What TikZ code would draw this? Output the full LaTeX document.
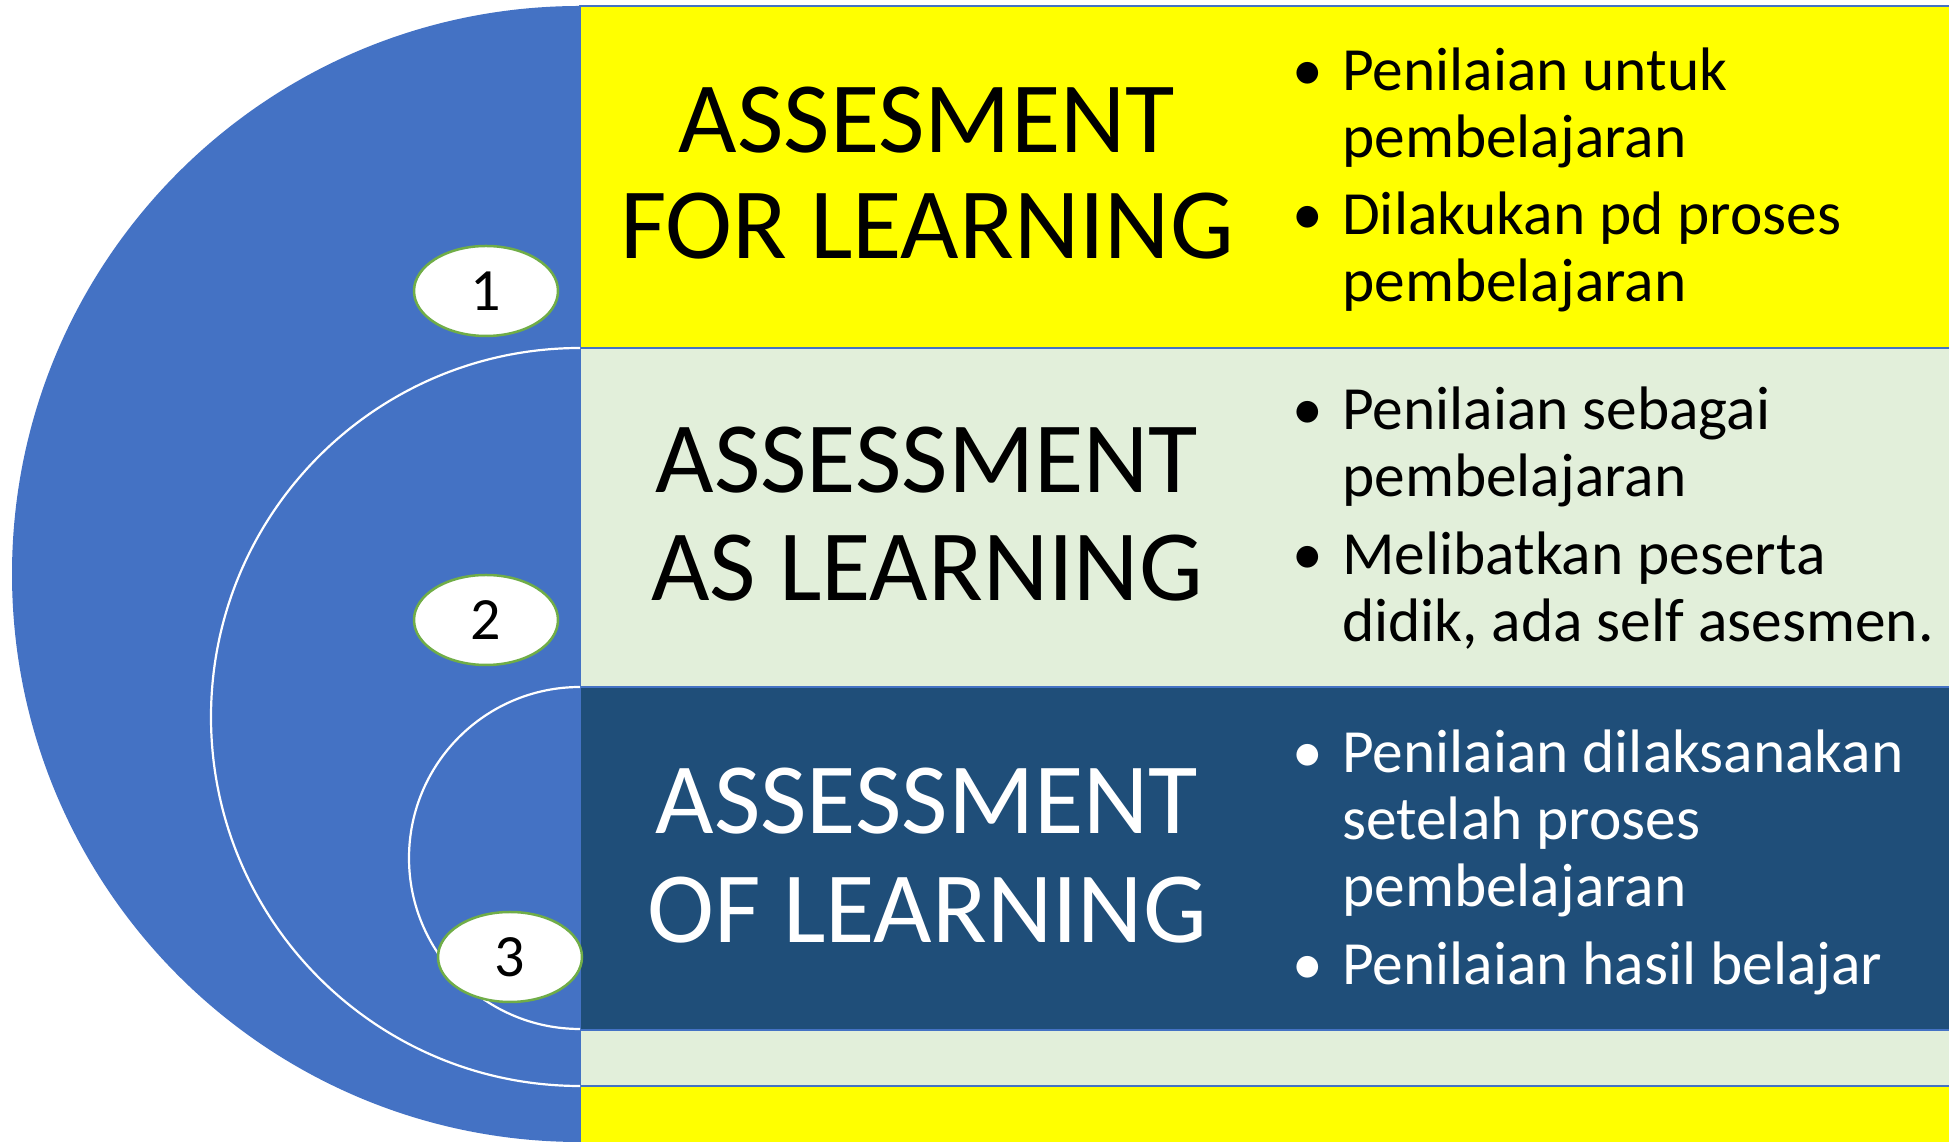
\documentclass[tikz,border=0pt]{standalone}
\usepackage{fontspec}
\setmainfont{Carlito}
\usetikzlibrary{shapes.geometric}
\definecolor{blueA}{HTML}{4472C4}
\definecolor{navy}{HTML}{1F4E79}
\definecolor{pale}{HTML}{E2EFDA}
\definecolor{grn}{HTML}{70AD47}
\definecolor{yel}{HTML}{FFFF00}
\begin{document}
\begin{tikzpicture}[x=1pt,y=1pt,
  band/.style={draw=blueA,line width=2pt},
  title/.style={anchor=base,inner sep=0pt,font=\fontsize{101}{107}\selectfont},
  btxt/.style={anchor=base west,inner sep=0pt,font=\fontsize{61.4}{66}\selectfont},
  bdot/.style={anchor=base,inner sep=0pt,font=\fontsize{61.4}{66}\selectfont},
  num/.style={ellipse,draw=grn,line width=2.5pt,fill=white,minimum width=144pt,minimum height=90pt,inner sep=0pt,font=\fontsize{60}{66}\selectfont},
  ring/.style={draw=white,line width=2.2pt}]
\useasboundingbox (0,0) rectangle (1949,1142);
\clip (0,0) rectangle (1949,1142);
% big half disc
\fill[blueA] (580,1136) arc[start angle=90,end angle=270,radius=568] -- cycle;
% bands
\draw[band,fill=yel] (580,794) rectangle (1960,1136);
\draw[band,fill=pale] (580,455) rectangle (1960,794);
\draw[band,fill=navy] (580,112) rectangle (1960,455);
\draw[band,fill=pale] (580,56) rectangle (1960,112);
\draw[band,fill=yel] (580,-10) rectangle (1960,56);
% white arcs
\draw[ring] (580,794) arc[start angle=90,end angle=270,radius=369];
\draw[ring] (580,455) arc[start angle=90,end angle=270,radius=171];
% number ellipses
\node[num] (n1) at (486,851) {1};
\node[num] (n2) at (486,522) {2};
\node[num] (n3) at (510,185) {3};
% titles
\node[title] (t1a) at (927,989) {ASSESMENT};
\node[title] (t1b) at (927,883) {FOR LEARNING};
\node[title] (t2a) at (927,649) {ASSESSMENT};
\node[title] (t2b) at (927,541) {AS LEARNING};
\node[title,text=white] (t3a) at (927,308) {ASSESSMENT};
\node[title,text=white] (t3b) at (927,199) {OF LEARNING};
% yellow bullets
\node[bdot] (d11) at (1308,1051) {•};
\node[btxt] (b11) at (1342,1051) {Penilaian untuk};
\node[btxt] (b12) at (1342,984) {pembelajaran};
\node[bdot] (d12) at (1308,907) {•};
\node[btxt] (b13) at (1342,907) {Dilakukan pd proses};
\node[btxt] (b14) at (1342,840) {pembelajaran};
% green bullets
\node[bdot] (d21) at (1308,712) {•};
\node[btxt] (b21) at (1342,712) {Penilaian sebagai};
\node[btxt] (b22) at (1342,645) {pembelajaran};
\node[bdot] (d22) at (1308,567) {•};
\node[btxt] (b23) at (1342,567) {Melibatkan peserta};
\node[btxt] (b24) at (1342,500) {didik, ada self asesmen.};
% navy bullets
\node[bdot,text=white] (d31) at (1308,369) {•};
\node[btxt,text=white] (b31) at (1342,369) {Penilaian dilaksanakan};
\node[btxt,text=white] (b32) at (1342,302) {setelah proses};
\node[btxt,text=white] (b33) at (1342,235) {pembelajaran};
\node[bdot,text=white] (d32) at (1308,157) {•};
\node[btxt,text=white] (b34) at (1342,157) {Penilaian hasil belajar};
\end{tikzpicture}
\end{document}
